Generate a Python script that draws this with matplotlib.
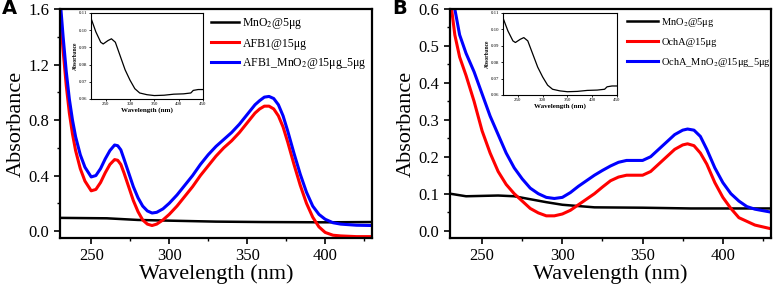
import matplotlib
matplotlib.use("Agg")
import matplotlib.pyplot as plt
from matplotlib.ticker import MultipleLocator, AutoMinorLocator

plt.rcParams['font.family'] = ['Liberation Serif', 'DejaVu Serif']
plt.rcParams['mathtext.fontset'] = 'stix'

# Panel A data (wavelength nm, absorbance)
wl_a = [230, 232, 234, 236, 238, 240, 243, 246, 250, 253, 256, 259, 262, 265, 267, 269, 271, 274, 277, 280,
        283, 286, 289, 292, 296, 300, 305, 310, 315, 320, 325, 330, 335, 340, 345, 350, 355, 358, 361, 364,
        367, 370, 373, 376, 380, 384, 388, 392, 396, 400, 405, 410, 420, 430]
afb1 = [1.58, 1.30, 1.05, 0.85, 0.70, 0.58, 0.45, 0.36, 0.29, 0.30, 0.35, 0.42, 0.48, 0.515, 0.51, 0.48, 0.42, 0.32, 0.22, 0.14,
        0.08, 0.05, 0.04, 0.05, 0.08, 0.12, 0.18, 0.25, 0.32, 0.40, 0.47, 0.54, 0.60, 0.65, 0.71, 0.78, 0.85, 0.88, 0.90, 0.90,
        0.88, 0.83, 0.75, 0.64, 0.48, 0.33, 0.20, 0.10, 0.03, -0.01, -0.03, -0.035, -0.04, -0.04]
afb1_mno2 = [1.68, 1.40, 1.15, 0.95, 0.80, 0.68, 0.55, 0.46, 0.39, 0.40, 0.45, 0.52, 0.58, 0.62, 0.615, 0.585, 0.52, 0.42, 0.32, 0.24,
             0.18, 0.145, 0.13, 0.135, 0.16, 0.20, 0.26, 0.33, 0.40, 0.48, 0.55, 0.61, 0.66, 0.71, 0.77, 0.84, 0.91, 0.94, 0.965, 0.97,
             0.955, 0.91, 0.83, 0.72, 0.56, 0.41, 0.28, 0.18, 0.12, 0.085, 0.06, 0.05, 0.042, 0.04]
wl_a_blk = [230, 260, 280, 300, 330, 360, 400, 430]
mno2_a = [0.095, 0.092, 0.080, 0.075, 0.068, 0.065, 0.063, 0.065]

# Panel B data
wl_b = [231, 233, 236, 240, 245, 250, 255, 260, 265, 270, 275, 280, 285, 290, 295, 300, 305, 310, 315, 320, 325, 330, 335, 340, 345,
        350, 355, 360, 365, 370, 375, 378, 382, 386, 390, 395, 400, 405, 410, 415, 420, 430]
ocha = [0.60, 0.53, 0.47, 0.42, 0.35, 0.27, 0.21, 0.16, 0.125, 0.10, 0.08, 0.06, 0.048, 0.04, 0.04, 0.045, 0.055, 0.07, 0.085, 0.10, 0.118, 0.135, 0.145, 0.15, 0.15,
        0.15, 0.16, 0.18, 0.20, 0.22, 0.232, 0.235, 0.23, 0.21, 0.18, 0.13, 0.09, 0.06, 0.035, 0.025, 0.015, 0.005]
ocha_mno2 = [0.64, 0.60, 0.53, 0.48, 0.43, 0.37, 0.31, 0.26, 0.21, 0.17, 0.14, 0.115, 0.10, 0.09, 0.087, 0.09, 0.103, 0.12, 0.135, 0.15, 0.163, 0.175, 0.185, 0.19, 0.19,
             0.19, 0.20, 0.22, 0.24, 0.26, 0.272, 0.275, 0.272, 0.255, 0.22, 0.17, 0.13, 0.10, 0.08, 0.065, 0.058, 0.05]
wl_b_blk = [230, 240, 260, 270, 280, 290, 300, 320, 350, 380, 430]
mno2_b = [0.10, 0.093, 0.095, 0.093, 0.085, 0.077, 0.070, 0.063, 0.062, 0.060, 0.060]

# Inset data (MnO2 alone)
wl_ins = [220, 230, 240, 245, 255, 262, 270, 280, 290, 300, 310, 320, 335, 350, 370, 390, 410, 425, 430, 440, 450]
mno2_ins = [0.107, 0.099, 0.093, 0.092, 0.094, 0.095, 0.093, 0.085, 0.077, 0.071, 0.066, 0.0635, 0.0625, 0.062, 0.0622, 0.0628, 0.063, 0.0635, 0.065, 0.0655, 0.0655]

W, H = 775, 291
fig = plt.figure(figsize=(W / 100, H / 100), dpi=100)


def style_main(ax, ymin, ymax, ystep):
    ax.set_xlim(230, 430)
    ax.set_ylim(ymin, ymax)
    ax.xaxis.set_major_locator(MultipleLocator(50))
    ax.xaxis.set_minor_locator(AutoMinorLocator(2))
    ax.yaxis.set_major_locator(MultipleLocator(ystep))
    ax.yaxis.set_minor_locator(AutoMinorLocator(2))
    ax.tick_params(which='major', direction='out', length=4, width=1.2, labelsize=12)
    ax.tick_params(which='minor', direction='out', length=2.5, width=1)
    for s in ax.spines.values():
        s.set_linewidth(1.6)
    ax.set_xlabel('Wavelength (nm)', fontsize=16, labelpad=0)
    ax.set_ylabel('Absorbance', fontsize=16, labelpad=2)


def add_inset(rect):
    ins = fig.add_axes(rect)
    ins.plot(wl_ins, mno2_ins, color='black', lw=0.9)
    ins.set_xlim(220, 450)
    ins.set_ylim(0.06, 0.11)
    ins.xaxis.set_major_locator(MultipleLocator(50))
    ins.yaxis.set_major_locator(MultipleLocator(0.01))
    ins.tick_params(direction='out', length=1.5, width=0.6, labelsize=3.5, pad=1)
    for s in ins.spines.values():
        s.set_linewidth(0.8)
    ins.set_xlabel('Wavelength (nm)', fontsize=5, fontweight='bold', labelpad=0.5)
    ins.set_ylabel('Absorbance', fontsize=4, fontweight='bold', labelpad=1)
    return ins


# Panel A
axA = fig.add_axes([60 / W, (H - 238) / H, 312 / W, 229 / H])
axA.plot(wl_a_blk, mno2_a, color='black', lw=1.8, label='MnO$_2$@5μg')
axA.plot(wl_a, afb1, color='#ff0000', lw=2.2, label='AFB1@15μg')
axA.plot(wl_a, afb1_mno2, color='#0000ff', lw=2.2, label='AFB1_MnO$_2$@15μg_5μg')
style_main(axA, -0.05, 1.6, 0.4)
axA.legend(loc='upper left', bbox_to_anchor=(0.46, 1.0), frameon=False, fontsize=8.5,
           handlelength=2.4, handletextpad=0.3, labelspacing=0.55, borderaxespad=0.2)
add_inset([91 / W, (H - 99) / H, 112 / W, 86 / H])
fig.text(2 / W, 1 - 14 / H, 'A', fontsize=14, fontweight='bold', family='DejaVu Sans')

# Panel B
axB = fig.add_axes([450 / W, (H - 238) / H, 321 / W, 229 / H])
axB.plot(wl_b_blk, mno2_b, color='black', lw=1.8, label='MnO$_2$@5μg')
axB.plot(wl_b, ocha, color='#ff0000', lw=2.2, label='OchA@15μg')
axB.plot(wl_b, ocha_mno2, color='#0000ff', lw=2.2, label='OchA_MnO$_2$@15μg_5μg')
style_main(axB, -0.02, 0.6, 0.1)
axB.legend(loc='upper left', bbox_to_anchor=(0.53, 1.0), frameon=False, fontsize=7.5,
           handlelength=3.0, handletextpad=0.3, labelspacing=0.85, borderaxespad=0.25)
add_inset([503 / W, (H - 95) / H, 114 / W, 82 / H])
fig.text(392 / W, 1 - 14 / H, 'B', fontsize=14, fontweight='bold', family='DejaVu Sans')

fig.savefig('out.png', dpi=100)
